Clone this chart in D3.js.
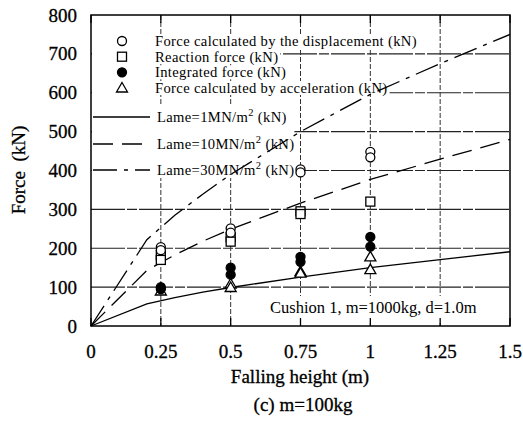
<!DOCTYPE html>
<html><head><meta charset="utf-8">
<script src="https://cdn.jsdelivr.net/npm/d3@7"></script>
<style>body{margin:0;background:#fff}</style>
</head><body>
<svg id="c" width="523" height="421"></svg>
<script>
const xTicks=[0,0.25,0.5,0.75,1,1.25,1.5];
const xTickLabels=["0","0.25","0.5","0.75","1","1.25","1.5"];
const yTicks=[0,100,200,300,400,500,600,700,800];
// measured points
const dispX=[0.25,0.25,0.5,0.5,0.75,0.75,1,1];
const dispY=[203,195,251,240,403,395,448,434];
const reactX=[0.25,0.25,0.5,0.5,0.75,0.75,1];
const reactY=[182,170,228,217,295,288,320];
const integX=[0.25,0.25,0.5,0.5,0.75,0.75,1,1];
const integY=[100,95,150,132,178,165,229,204];
const accX=[0.25,0.5,0.5,0.75,0.75,1,1];
const accY=[90,108,99,140,136,178,145];
// Lame curves
const lameX=[0,0.2,0.3,0.4,0.5,0.75,1,1.25,1.5];
const lame1=[0,57,73,87,99,126,150,171,191];
const lame10=[0,143,183,218,249,316,377,429,480];
const lame30=[0,222,285,339,390,500,596,675,750];
const legendMarkers=["Force calculated by the displacement (kN)","Reaction force (kN)","Integrated force (kN)","Force calculated by acceleration (kN)"];
const legendLines=[["Lame=1MN/m","2"," (kN)"],["Lame=10MN/m","2"," (kN)"],["Lame=30MN/m","2"," (kN)"]];

const svg=d3.select("#c");
const L=91,R=510,T=15,B=326;
const x=d3.scaleLinear().domain([0,1.5]).range([L,R]);
const y=d3.scaleLinear().domain([0,800]).range([B,T]);
const font="Liberation Serif, Times New Roman, serif";
const lfs=14.6;

// grid
const g=svg.append("g");
g.selectAll(".hg").data(yTicks.filter(d=>d>0&&d<800)).enter().append("line")
 .attr("x1",L).attr("x2",R).attr("y1",d=>y(d)).attr("y2",d=>y(d))
 .attr("stroke","#222").attr("stroke-width",1.1).attr("stroke-dasharray","34,2,10,2");
g.selectAll(".vg").data(xTicks.filter(d=>d>0&&d<1.5)).enter().append("line")
 .attr("y1",T).attr("y2",B).attr("x1",d=>x(d)).attr("x2",d=>x(d))
 .attr("stroke","#333").attr("stroke-width",1).attr("stroke-dasharray","5,2");

const maskG=svg.append("g");
const lineG=svg.append("g");
const lg=svg.append("g");

function circ(sel,cx,cy,fill){sel.append("circle").attr("cx",cx).attr("cy",cy).attr("r",4.5).attr("fill",fill).attr("stroke","#000").attr("stroke-width",1.3);}
function sq(sel,cx,cy){sel.append("rect").attr("x",cx-4.5).attr("y",cy-4.5).attr("width",9).attr("height",9).attr("fill","#fff").attr("stroke","#000").attr("stroke-width",1.3);}
function tri(sel,cx,cy){sel.append("path").attr("d",`M${cx},${cy-5.5}L${cx+5.5},${cy+4}L${cx-5.5},${cy+4}Z`).attr("fill","#fff").attr("stroke","#000").attr("stroke-width",1.3);}

// legend
const rowsY=[41,56.7,72.3,88];
circ(lg,122,rowsY[0],"#fff"); sq(lg,122,rowsY[1]); circ(lg,122,rowsY[2],"#000"); tri(lg,122,rowsY[3]);
legendMarkers.forEach((t,i)=>{
  const tx=lg.append("text").attr("x",155).attr("y",rowsY[i]+5).attr("font-family",font).attr("font-size",lfs).attr("letter-spacing",0.35).text(t);
  const w=tx.node().getComputedTextLength();
  maskG.append("rect").attr("x",L+1).attr("y",rowsY[i]-7).attr("height",14).attr("width",155+w+2-(L+1)).attr("fill","#fff");
});
const lineRowsY=[117,144,170];
const dashes=[null,"20,9","24,7,4,7"];
let maxW=0;
lineRowsY.forEach((yy,i)=>{
  lg.append("line").attr("x1",L+2).attr("x2",150).attr("y1",yy).attr("y2",yy).attr("stroke","#000").attr("stroke-width",1.3).attr("stroke-dasharray",dashes[i]);
  const tx=lg.append("text").attr("x",157).attr("y",yy+5).attr("font-family",font).attr("font-size",lfs).attr("letter-spacing",0.35);
  tx.append("tspan").text(legendLines[i][0]);
  tx.append("tspan").attr("dy",-6).attr("font-size",10.5).text(legendLines[i][1]);
  tx.append("tspan").attr("dy",6).text(legendLines[i][2]);
  const w=tx.node().getComputedTextLength();
  maskG.append("rect").attr("x",155).attr("y",yy-8).attr("height",15).attr("width",w+4).attr("fill","#fff");
  maxW=Math.max(maxW,w);
});
maskG.append("rect").attr("x",L+1).attr("y",106).attr("width",157+maxW-(L+1)).attr("height",72).attr("fill","#fff");
maskG.append("rect").attr("x",266).attr("y",296).attr("width",226).attr("height",25).attr("fill","#fff");

// lame lines
const line=d3.line().x(d=>x(d[0])).y(d=>y(d[1]));
const curves=[[lame1,null],[lame10,"20,9"],[lame30,"24,7,4,7"]];
curves.forEach(([vals,dash])=>{
  lineG.append("path").datum(lameX.map((v,i)=>[v,vals[i]])).attr("d",line)
   .attr("fill","none").attr("stroke","#000").attr("stroke-width",1.3)
   .attr("stroke-dasharray",dash);
});

// frame
svg.append("rect").attr("x",L).attr("y",T).attr("width",R-L).attr("height",B-T)
 .attr("fill","none").attr("stroke","#000").attr("stroke-width",1.5);
xTicks.forEach(t=>{
  svg.append("line").attr("x1",x(t)).attr("x2",x(t)).attr("y1",T).attr("y2",T+8).attr("stroke","#000").attr("stroke-width",1.3);
  svg.append("line").attr("x1",x(t)).attr("x2",x(t)).attr("y1",B).attr("y2",B-8).attr("stroke","#000").attr("stroke-width",1.3);
});

// markers
const m=svg.append("g");
accX.forEach((v,i)=>tri(m,x(v),y(accY[i])));
integX.forEach((v,i)=>circ(m,x(v),y(integY[i]),"#000"));
reactX.forEach((v,i)=>sq(m,x(v),y(reactY[i])));
dispX.forEach((v,i)=>circ(m,x(v),y(dispY[i]),"#fff"));

// annotation
svg.append("text").attr("x",270).attr("y",313).attr("font-family",font).attr("font-size",16.5).text("Cushion 1, m=1000kg, d=1.0m");

// axis labels
const afs=19;
const heavy=s=>s.attr("stroke","#000").attr("stroke-width",0.3);
heavy(svg.selectAll(".yl").data(yTicks).enter().append("text")
 .attr("x",77).attr("y",d=>y(d)+6.5).attr("text-anchor","end").attr("font-family",font).attr("font-size",afs)
 .text(d=>d));
heavy(svg.selectAll(".xl").data(xTicks).enter().append("text")
 .attr("x",d=>x(d)).attr("y",358).attr("text-anchor","middle").attr("font-family",font).attr("font-size",afs)
 .text((d,i)=>xTickLabels[i]));
heavy(svg.append("text").attr("x",300).attr("y",383).attr("text-anchor","middle").attr("font-family",font).attr("font-size",afs).text("Falling height (m)"));
heavy(svg.append("text").attr("x",303).attr("y",411).attr("text-anchor","middle").attr("font-family",font).attr("font-size",afs).text("(c) m=100kg"));
heavy(svg.append("text").attr("transform","translate(25,170) rotate(-90)").attr("text-anchor","middle").attr("font-family",font).attr("font-size",afs).style("white-space","pre").text("Force  (kN)"));
</script>
</body></html>
